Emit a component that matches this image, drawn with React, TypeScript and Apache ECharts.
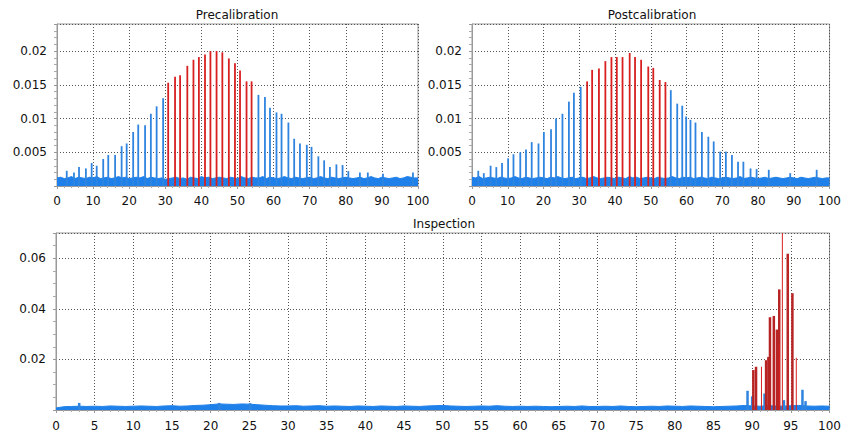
import React, { useEffect, useRef } from "react";
import * as echarts from "echarts";

// ---------- Precalibration ----------
const preBlueX = [2.7, 4.7, 6.1, 8.0, 9.6, 11.0, 12.8, 14.2, 16.1, 17.9, 19.3, 21.1, 22.5, 24.4, 26.0, 27.6, 29.4,
  55.8, 57.6, 59.0, 60.8, 62.2, 64.1, 65.7, 67.3, 69.2, 70.5, 72.4, 74.0, 75.6, 77.4, 79.1, 80.7, 83.9, 86.1, 90.3, 98.6];
const preBlueY = [0.00225, 0.002, 0.0028, 0.0026, 0.0034, 0.003, 0.004, 0.0046, 0.0046, 0.0059, 0.0063, 0.008, 0.0091, 0.009, 0.0107, 0.0118, 0.013,
  0.0135, 0.0132, 0.0116, 0.0109, 0.0107, 0.0094, 0.007, 0.0063, 0.0061, 0.0058, 0.0044, 0.0038, 0.0028, 0.0032, 0.0031, 0.0022, 0.002, 0.002, 0.0018, 0.002];
const preRedX = [30.8, 32.7, 34.1, 36.1, 37.8, 39.3, 41.0, 42.5, 44.2, 45.8, 47.6, 49.3, 50.7, 52.5, 53.9];
const preRedY = [0.0153, 0.0162, 0.0164, 0.0178, 0.0187, 0.0191, 0.0195, 0.02, 0.02, 0.0198, 0.0189, 0.0182, 0.0171, 0.0155, 0.0155];
const preNoise = [
  0.0012, 0.0013, 0.0011, 0.0012, 0.0014, 0.0011, 0.0013, 0.0012, 0.0011, 0.0013,
  0.0012, 0.0014, 0.0011, 0.0012, 0.0013, 0.0011, 0.0012, 0.0014, 0.0012, 0.0013,
  0.0011, 0.0012, 0.0013, 0.0012, 0.0014, 0.0011, 0.0013, 0.0012, 0.0011, 0.0012,
  0.0010, 0.0011, 0.0012, 0.0013, 0.0011, 0.0012, 0.0010, 0.0013, 0.0012, 0.0011,
  0.0014, 0.0012, 0.0013, 0.0011, 0.0012, 0.0013, 0.0012, 0.0011, 0.0013, 0.0012,
  0.0011, 0.0014, 0.0012, 0.0011, 0.0013, 0.0012, 0.0012, 0.0014, 0.0011, 0.0013,
  0.0012, 0.0011, 0.0012, 0.0014, 0.0012, 0.0011, 0.0013, 0.0012, 0.0011, 0.0012,
  0.0013, 0.0011, 0.0012, 0.0014, 0.0012, 0.0011, 0.0013, 0.0012, 0.0011, 0.0012,
  0.0013, 0.0012, 0.0011, 0.0012, 0.0013, 0.0011, 0.0012, 0.0014, 0.0012, 0.0011,
  0.0013, 0.0012, 0.0011, 0.0012, 0.0013, 0.0011, 0.0012, 0.0014, 0.0013, 0.0012,
  0.0012];

// ---------- Postcalibration ----------
const postBlueX = [1.75, 3.3, 5.2, 6.8, 8.4, 10.1, 11.6, 13.5, 15.1, 16.7, 18.6, 20.1, 22.1, 23.5, 25.3, 27.1, 28.5, 30.4,
  55.6, 57.4, 58.8, 59.9, 61.1, 62.5, 64.3, 66.1, 67.6, 69.4, 71.0, 72.7, 74.4, 75.9, 77.9, 79.6, 83.0, 89.0, 96.4];
const postBlueY = [0.00225, 0.0019, 0.003, 0.0028, 0.0034, 0.0041, 0.0047, 0.005, 0.0054, 0.0065, 0.0063, 0.008, 0.0084, 0.01, 0.0107, 0.0125, 0.0138, 0.0147,
  0.0142, 0.0122, 0.0119, 0.0103, 0.0098, 0.0094, 0.008, 0.0073, 0.0066, 0.0051, 0.0051, 0.0046, 0.0036, 0.0036, 0.0026, 0.0025, 0.0024, 0.0019, 0.0024];
const postRedX = [32.2, 33.6, 35.5, 37.3, 39.0, 40.5, 42.1, 44.1, 45.6, 47.3, 49.3, 50.7, 52.5, 54.1];
const postRedY = [0.0155, 0.0172, 0.0174, 0.0185, 0.0191, 0.0191, 0.0191, 0.0197, 0.0191, 0.0187, 0.0177, 0.0175, 0.0157, 0.0154];
const postNoise = [
  0.0013, 0.0012, 0.0014, 0.0011, 0.0012, 0.0013, 0.0012, 0.0011, 0.0013, 0.0012,
  0.0011, 0.0012, 0.0014, 0.0012, 0.0011, 0.0013, 0.0012, 0.0011, 0.0012, 0.0013,
  0.0012, 0.0011, 0.0013, 0.0012, 0.0014, 0.0012, 0.0011, 0.0012, 0.0013, 0.0011,
  0.0012, 0.0013, 0.0011, 0.0012, 0.0014, 0.0012, 0.0011, 0.0012, 0.0013, 0.0012,
  0.0011, 0.0013, 0.0012, 0.0011, 0.0014, 0.0012, 0.0013, 0.0011, 0.0012, 0.0013,
  0.0012, 0.0011, 0.0013, 0.0012, 0.0011, 0.0012, 0.0014, 0.0012, 0.0011, 0.0013,
  0.0012, 0.0013, 0.0011, 0.0012, 0.0013, 0.0012, 0.0011, 0.0013, 0.0012, 0.0011,
  0.0012, 0.0013, 0.0012, 0.0011, 0.0012, 0.0014, 0.0011, 0.0012, 0.0013, 0.0012,
  0.0011, 0.0012, 0.0013, 0.0011, 0.0012, 0.0013, 0.0012, 0.0011, 0.0012, 0.0013,
  0.0012, 0.0011, 0.0013, 0.0012, 0.0011, 0.0012, 0.0013, 0.0012, 0.0011, 0.0012,
  0.0012];

// ---------- Inspection ----------
const inspBlueX = [2.9, 21.0, 25.0, 89.3, 89.9, 91.5, 94.0, 96.4, 96.8];
const inspBlueY = [0.0028, 0.0028, 0.0027, 0.0076, 0.0054, 0.0065, 0.0039, 0.008, 0.0035];
const inspRedX = [90.05, 90.4, 91.7, 92.0, 92.2, 92.7, 93.1, 93.4, 94.5, 95.1];
const inspRedY = [0.0158, 0.0171, 0.0197, 0.021, 0.0367, 0.0372, 0.0318, 0.0477, 0.0618, 0.0462];
const inspRedThinX = [91.2, 93.5, 93.9, 95.7];
const inspRedThinY = [0.0171, 0.0259, 0.075, 0.0207];
const inspNoise = [
  0.0008, 0.0013, 0.0014, 0.0015, 0.0014, 0.0015, 0.0014, 0.0016, 0.0015, 0.0014,
  0.0015, 0.0016, 0.0015, 0.0014, 0.0016, 0.0017, 0.0015, 0.0016, 0.0018, 0.0019,
  0.0021, 0.0024, 0.0023, 0.0022, 0.0024, 0.0023, 0.0021, 0.0019, 0.0017, 0.0016,
  0.0016, 0.0017, 0.0015, 0.0016, 0.0017, 0.0015, 0.0016, 0.0015, 0.0014, 0.0016,
  0.0015, 0.0014, 0.0016, 0.0015, 0.0014, 0.0016, 0.0015, 0.0014, 0.0016, 0.0017,
  0.0018, 0.0016, 0.0015, 0.0014, 0.0015, 0.0016, 0.0015, 0.0017, 0.0015, 0.0014,
  0.0015, 0.0014, 0.0015, 0.0014, 0.0013, 0.0014, 0.0015, 0.0014, 0.0016, 0.0014,
  0.0014, 0.0015, 0.0014, 0.0016, 0.0014, 0.0013, 0.0014, 0.0015, 0.0014, 0.0016,
  0.0015, 0.0014, 0.0016, 0.0015, 0.0014, 0.0013, 0.0014, 0.0015, 0.0016, 0.0018,
  0.0016, 0.0015, 0.0017, 0.0016, 0.0015, 0.0017, 0.0018, 0.0016, 0.0015, 0.0016,
  0.0015];

const titles = ["Precalibration", "Postcalibration", "Inspection"];

const BLUE = "#2f84df";
const NOISE = "#1f80ea";
const RED = "#d82020";
const DARKRED = "#b82424";
const FONT = "DejaVu Sans";

function pairs(xs: number[], ys: number[]) {
  return xs.map((x, i) => [x, ys[i]]);
}

function spikeData(bx: number[], by: number[], rx: number[], ry: number[], red: string) {
  return [
    ...pairs(bx, by).map((v) => ({ value: v, itemStyle: { color: BLUE } })),
    ...pairs(rx, ry).map((v) => ({ value: v, itemStyle: { color: red } })),
  ];
}

function noiseData(ys: number[]) {
  return ys.map((y, i) => [i, y]);
}

export default function App() {
  const ref = useRef<HTMLDivElement>(null);
  useEffect(() => {
    if (!ref.current) return;
    const chart = echarts.init(ref.current, null, { renderer: "svg" });

    const xAxisBase = (gi: number, interval: number, margin: number) => ({
      type: "value",
      gridIndex: gi,
      min: 0,
      max: 100,
      interval,
      axisLine: { show: true, lineStyle: { color: "#999", width: 1 } },
      axisTick: { show: true, length: 3, lineStyle: { color: "#999" } },
      minorTick: { show: true, splitNumber: 5, length: 2, lineStyle: { color: "#aaa" } },
      axisLabel: { color: "#111", fontFamily: FONT, fontSize: 12, margin },
      splitLine: { show: true, lineStyle: { color: "#555", type: [1, 2], width: 1 } },
    });

    const yAxisBase = (gi: number, max: number, interval: number, minorSplit: number, hideAbove: number) => ({
      type: "value",
      gridIndex: gi,
      min: 0,
      max,
      interval,
      axisLine: { show: true, lineStyle: { color: "#999", width: 1 } },
      axisTick: { show: true, length: 3, lineStyle: { color: "#999" } },
      minorTick: { show: true, splitNumber: minorSplit, length: 3, lineStyle: { color: "#aaa" } },
      axisLabel: {
        color: "#111",
        fontFamily: FONT,
        fontSize: 12,
        margin: 10,
        formatter: (v: number) => (v === 0 || v > hideAbove ? "" : String(+v.toFixed(3))),
      },
      splitLine: { show: true, lineStyle: { color: "#555", type: [1, 2], width: 1 } },
    });

    const gridStyle = { show: true, borderColor: "#999", borderWidth: 1, backgroundColor: "#fff" };

    const noiseSeries = (gi: number, ys: number[]) => ({
      type: "line",
      xAxisIndex: gi,
      yAxisIndex: gi,
      data: noiseData(ys),
      symbol: "none",
      lineStyle: { color: NOISE, width: 1 },
      areaStyle: { color: NOISE, opacity: 1 },
      z: 2,
    });

    const spikeSeries = (gi: number, data: any[], width: number) => ({
      type: "bar",
      xAxisIndex: gi,
      yAxisIndex: gi,
      data,
      barWidth: width,
      barGap: "-100%",
      clip: true,
      z: 3,
    });

    chart.setOption({
      animation: false,
      backgroundColor: "#fff",
      grid: [
        { left: 57, top: 24, width: 361, height: 162, ...gridStyle },
        { left: 472, top: 24, width: 361, height: 162, ...gridStyle },
        { left: 56, top: 233, width: 777, height: 177, ...gridStyle },
      ],
      xAxis: [xAxisBase(0, 10, 9), xAxisBase(1, 10, 9), xAxisBase(2, 5, 10)],
      yAxis: [
        yAxisBase(0, 0.024, 0.005, 5, 0.0205),
        yAxisBase(1, 0.024, 0.005, 5, 0.0205),
        yAxisBase(2, 0.07, 0.02, 4, 0.065),
      ],
      graphic: [
        { type: "text", x: 237, y: 15, style: { text: titles[0], font: `12px '${FONT}'`, fill: "#111", textAlign: "center", textVerticalAlign: "middle" } },
        { type: "text", x: 652, y: 15, style: { text: titles[1], font: `12px '${FONT}'`, fill: "#111", textAlign: "center", textVerticalAlign: "middle" } },
        { type: "text", x: 444, y: 224, style: { text: titles[2], font: `12px '${FONT}'`, fill: "#111", textAlign: "center", textVerticalAlign: "middle" } },
      ],
      series: [
        noiseSeries(0, preNoise),
        spikeSeries(0, spikeData(preBlueX, preBlueY, preRedX, preRedY, RED), 1.8),
        noiseSeries(1, postNoise),
        spikeSeries(1, spikeData(postBlueX, postBlueY, postRedX, postRedY, RED), 1.8),
        noiseSeries(2, inspNoise),
        spikeSeries(2, spikeData(inspBlueX, inspBlueY, inspRedX, inspRedY, DARKRED), 2.5),
        spikeSeries(2, pairs(inspRedThinX, inspRedThinY).map((v) => ({ value: v, itemStyle: { color: RED } })), 1),
      ],
    });
    return () => chart.dispose();
  }, []);
  return <div ref={ref} style={{ position: "fixed", left: 0, top: 0, width: 844, height: 433 }} />;
}
